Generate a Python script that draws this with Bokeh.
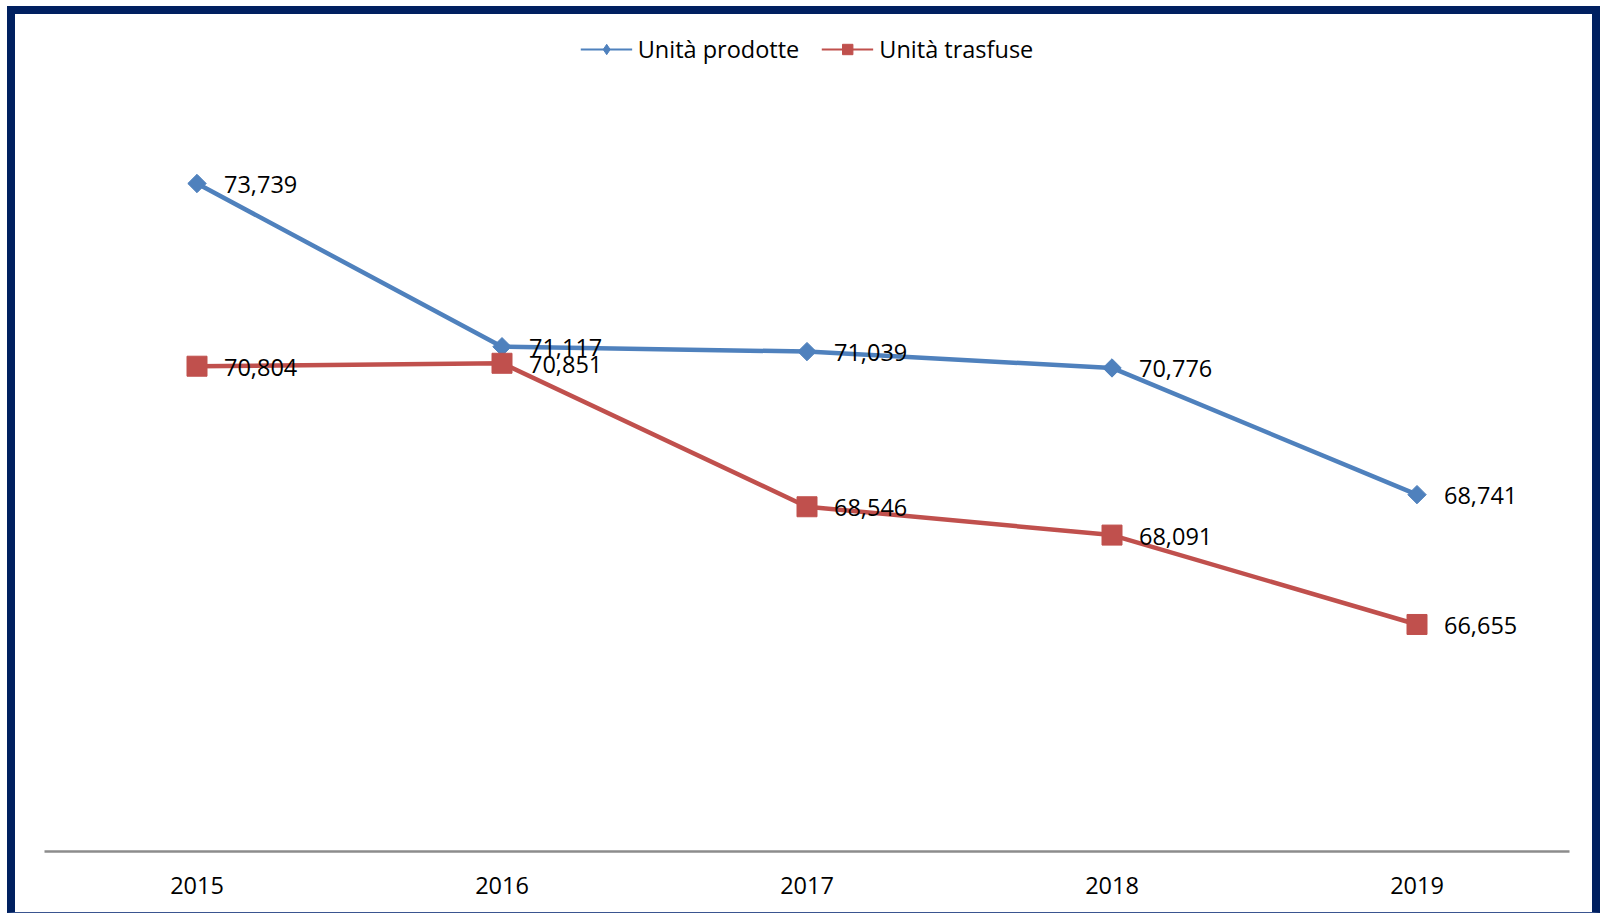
import math
from bokeh.plotting import figure
from bokeh.models import Range1d, FactorRange, Legend, LegendItem
from bokeh.core.properties import value
from bokeh.embed import file_html
from bokeh.resources import INLINE

# ---- data ----
years = ["2015", "2016", "2017", "2018", "2019"]
prodotte = [73739, 71117, 71039, 70776, 68741]
trasfuse = [70804, 70851, 68546, 68091, 66655]
labels_prodotte = [f"{v:,}" for v in prodotte]
labels_trasfuse = [f"{v:,}" for v in trasfuse]
series_names = ["Unità prodotte", "Unità trasfuse"]

FONT = "Open Sans"
FS = "23.5px"
BLUE = "#4F81BD"
RED = "#C0504D"
NAVY = "#002060"

p = figure(
    x_range=FactorRange(*years, range_padding=0),
    y_range=Range1d(63008, 76454),
    frame_width=1525, frame_height=837,
    min_border_left=29, min_border_right=23, min_border_top=0, min_border_bottom=61,
    y_axis_location=None, toolbar_location=None, output_backend="svg",
    background_fill_color="white", border_fill_color="white",
    outline_line_color=None,
)
p.styles = {
    "margin-left": "7px",
    "margin-top": "6px",
    "border-top": f"8px solid {NAVY}",
    "border-left": f"8px solid {NAVY}",
    "border-right": f"8px solid {NAVY}",
    "border-bottom": "1px solid #3a5590",
}
p.xgrid.visible = False
p.ygrid.visible = False

ax = p.xaxis[0]
ax.axis_line_color = "#8c8c8c"
ax.axis_line_width = 2.5
ax.major_tick_line_color = None
ax.minor_tick_line_color = None
ax.major_tick_in = 0
ax.major_tick_out = 0
ax.major_label_standoff = 25
ax.major_label_text_font = FONT
ax.major_label_text_font_size = FS
ax.major_label_text_color = "black"

# legend-only thin lines / small markers (hidden under the main marks)
lb_line = p.line(years, prodotte, line_color=BLUE, line_width=2)
lb_mark = p.scatter(years, prodotte, marker="diamond", size=13,
                    fill_color=BLUE, line_color=BLUE)
lr_line = p.line(years, trasfuse, line_color=RED, line_width=2)
lr_mark = p.scatter(years, trasfuse, marker="square", size=12,
                    fill_color=RED, line_color=RED)

# main marks
p.line(years, prodotte, line_color=BLUE, line_width=4.5)
p.line(years, trasfuse, line_color=RED, line_width=4.5)
p.scatter(years, prodotte, marker="square", size=13, angle=math.pi / 4,
          fill_color=BLUE, line_color=BLUE)
p.scatter(years, trasfuse, marker="square", size=20,
          fill_color=RED, line_color=RED)

for vals, labs in ((prodotte, labels_prodotte), (trasfuse, labels_trasfuse)):
    p.text(x=years, y=vals, text=labs, x_offset=27, y_offset=1,
           text_align="left", text_baseline="middle",
           text_font=value(FONT), text_font_size=FS, text_color="black")

legend = Legend(
    items=[LegendItem(label=series_names[0], renderers=[lb_line, lb_mark]),
           LegendItem(label=series_names[1], renderers=[lr_line, lr_mark])],
    location="top_center", orientation="horizontal",
    glyph_width=52, glyph_height=26, label_height=26, label_standoff=6,
    spacing=22, padding=20, margin=19,
    border_line_color=None, background_fill_alpha=0,
    label_text_font=FONT, label_text_font_size=FS, label_text_color="black",
)
p.add_layout(legend, "center")

open("out.html", "w").write(file_html(p, INLINE))
